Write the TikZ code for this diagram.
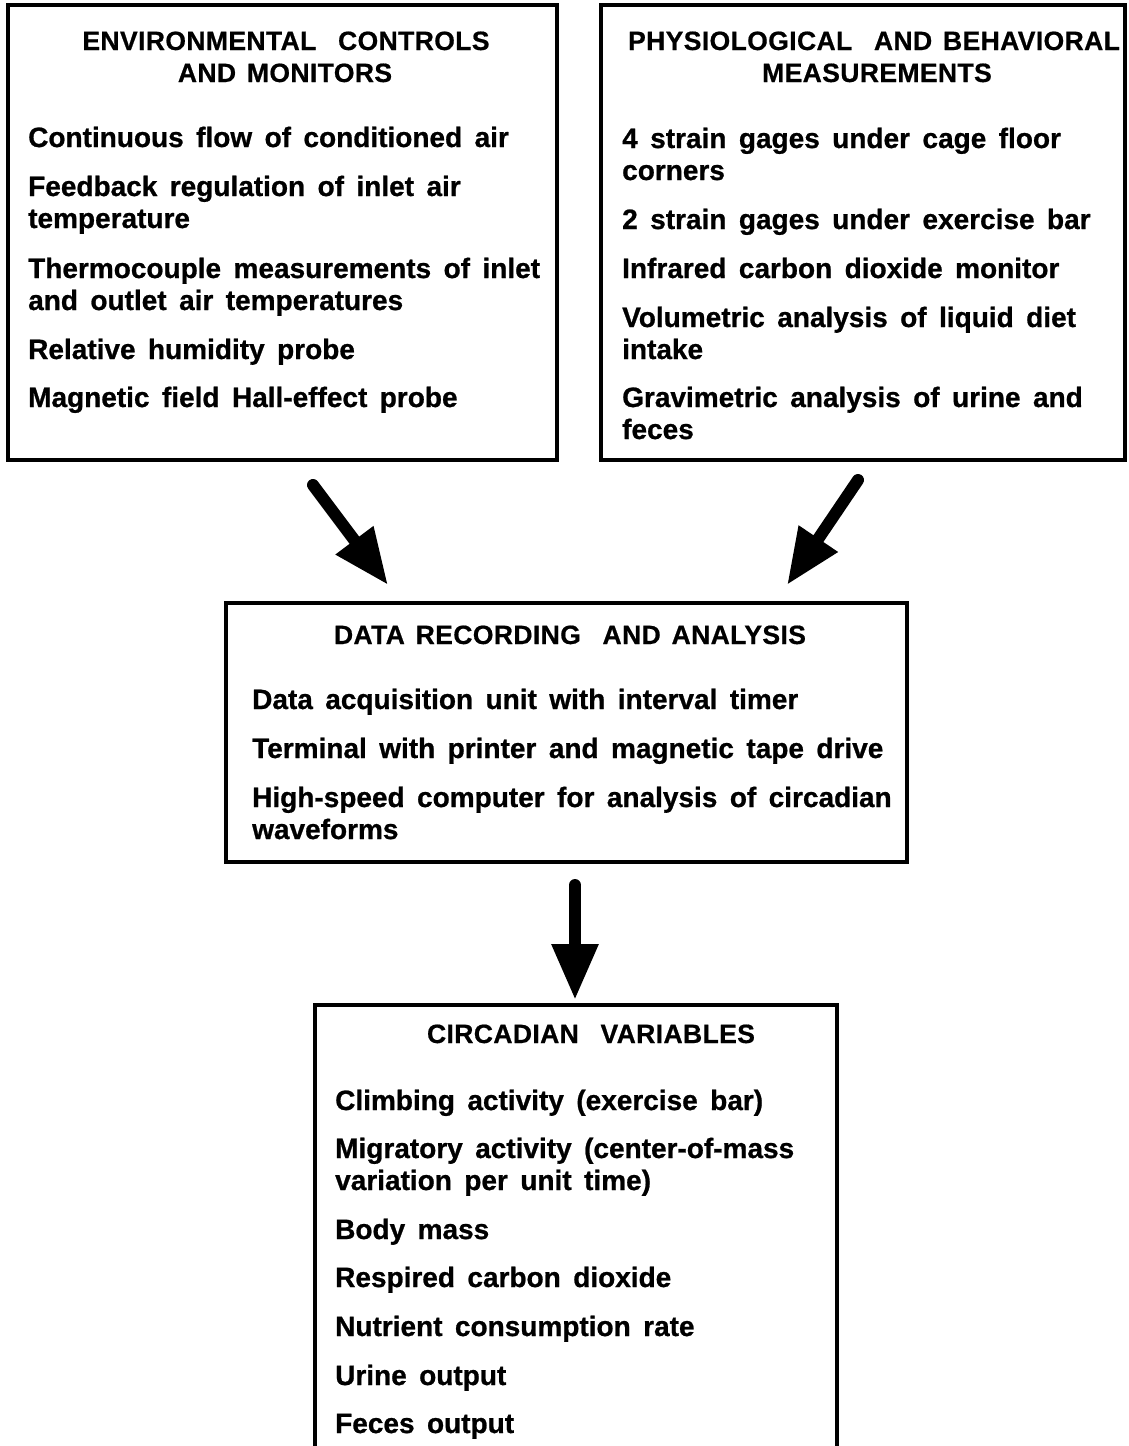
\documentclass[tikz,border=0pt]{standalone}
\usepackage{fontspec}
\setmainfont{Liberation Sans}
\newfontfamily\itemfont{Liberation Sans Bold}[WordSpace=1.6,FakeBold=0.8]
\newfontfamily\titlefont{Liberation Sans Bold}[LetterSpace=1.5,WordSpace=1.4,FakeBold=0.6]
\usetikzlibrary{arrows.meta}
\tikzset{
  boxstyle/.style={draw, line width=4pt, rectangle, inner sep=0pt, outer sep=0pt},
  itemtext/.style={anchor=base west, inner sep=0pt, font=\itemfont\fontsize{28}{32}\selectfont},
  titletext/.style={anchor=base, inner sep=0pt, font=\titlefont\fontsize{26.5}{30}\selectfont},
  bigarrow/.style={line width=12pt, line cap=round, -{Triangle[length=56pt,width=44pt]}}
}
\begin{document}
\begin{tikzpicture}[x=1pt,y=-1pt]
\clip (0,0) rectangle (1129,1446);
\fill[white] (0,0) rectangle (1129,1446);

% boxes
\node[boxstyle, minimum width=549pt, minimum height=455pt] (env) at (282.5,232.5) {};
\node[boxstyle, minimum width=524pt, minimum height=455pt] (phys) at (863,232.5) {};
\node[boxstyle, minimum width=681pt, minimum height=259pt] (data) at (566.5,732.5) {};
\node[boxstyle, minimum width=522pt, minimum height=475pt] (circ) at (576,1242.5) {};

% box 1
\node[titletext] (t1a) at (286,50) {ENVIRONMENTAL\ \ CONTROLS};
\node[titletext] (t1b) at (285,82) {AND MONITORS};
\node[itemtext] (e1) at (28,147) {Continuous flow of conditioned air};
\node[itemtext] (e2a) at (28,196) {Feedback regulation of inlet air};
\node[itemtext] (e2b) at (28,228) {temperature};
\node[itemtext] (e3a) at (28,278) {Thermocouple measurements of inlet};
\node[itemtext] (e3b) at (28,310) {and outlet air temperatures};
\node[itemtext] (e4) at (28,359) {Relative humidity probe};
\node[itemtext] (e5) at (28,407) {Magnetic field Hall-effect probe};

% box 2
\node[titletext] (t2a) at (874,50) {PHYSIOLOGICAL\ \ AND BEHAVIORAL};
\node[titletext] (t2b) at (877,82) {MEASUREMENTS};
\node[itemtext] (p1a) at (622,148) {4 strain gages under cage floor};
\node[itemtext] (p1b) at (622,180) {corners};
\node[itemtext] (p2) at (622,229) {2 strain gages under exercise bar};
\node[itemtext] (p3) at (622,278) {Infrared carbon dioxide monitor};
\node[itemtext] (p4a) at (622,327) {Volumetric analysis of liquid diet};
\node[itemtext] (p4b) at (622,359) {intake};
\node[itemtext] (p5a) at (622,407) {Gravimetric analysis of urine and};
\node[itemtext] (p5b) at (622,439) {feces};

% box 3
\node[titletext] (t3) at (570,644) {DATA RECORDING\ \ AND ANALYSIS};
\node[itemtext] (d1) at (252,709) {Data acquisition unit with interval timer};
\node[itemtext] (d2) at (252,758) {Terminal with printer and magnetic tape drive};
\node[itemtext] (d3a) at (252,807) {High-speed computer for analysis of circadian};
\node[itemtext] (d3b) at (252,839) {waveforms};

% box 4
\node[titletext] (t4) at (591,1043) {CIRCADIAN\ \ VARIABLES};
\node[itemtext] (c1) at (335,1110) {Climbing activity (exercise bar)};
\node[itemtext] (c2a) at (335,1158) {Migratory activity (center-of-mass};
\node[itemtext] (c2b) at (335,1190) {variation per unit time)};
\node[itemtext] (c3) at (335,1239) {Body mass};
\node[itemtext] (c4) at (335,1287) {Respired carbon dioxide};
\node[itemtext] (c5) at (335,1336) {Nutrient consumption rate};
\node[itemtext] (c6) at (335,1385) {Urine output};
\node[itemtext] (c7) at (335,1433) {Feces output};

% arrows
\coordinate (a1s) at (313,485);
\coordinate (a1e) at (388,585);
\coordinate (a2s) at (858,480);
\coordinate (a2e) at (787,585);
\coordinate (a3s) at (575,885);
\coordinate (a3e) at (575,1000);
\draw[bigarrow] (a1s) -- (a1e);
\draw[bigarrow] (a2s) -- (a2e);
\draw[bigarrow] (a3s) -- (a3e);
\end{tikzpicture}
\end{document}
